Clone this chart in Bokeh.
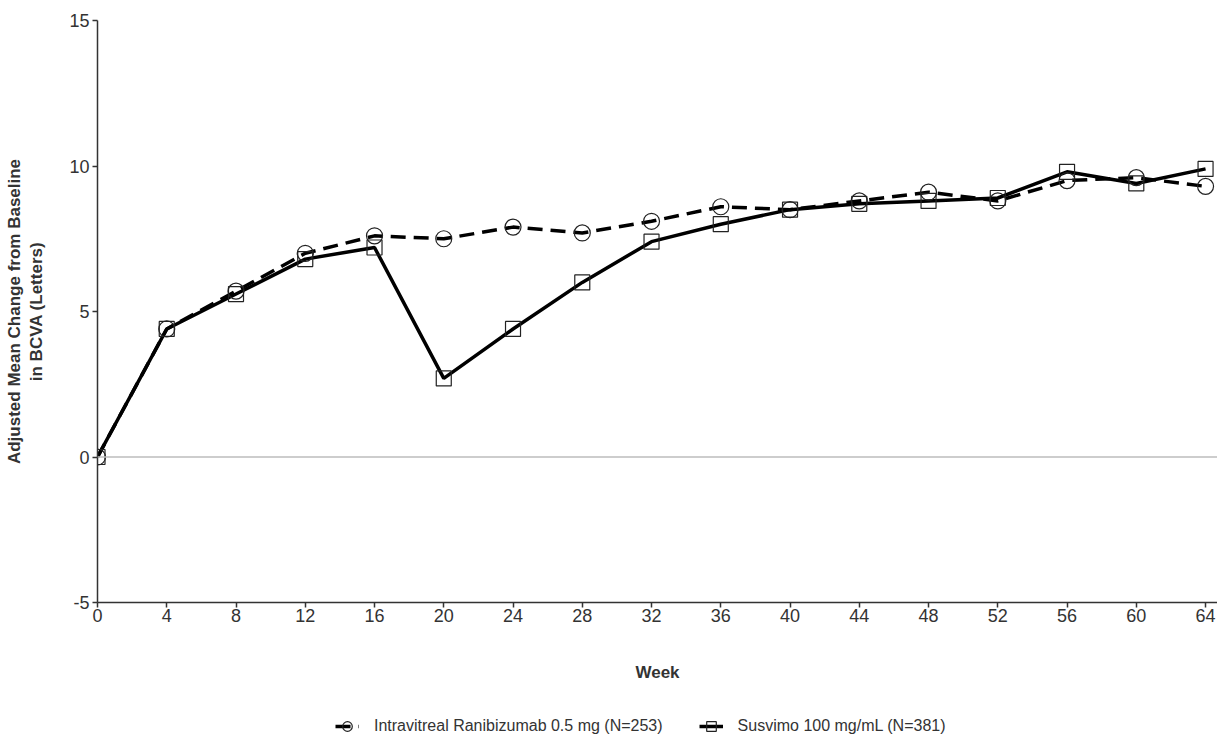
from bokeh.plotting import figure
from bokeh.layouts import column
from bokeh.models import (Range1d, FixedTicker, Span, Legend, LegendItem, ColumnDataSource,
                          PrintfTickFormatter)
from bokeh.embed import file_html
from bokeh.resources import INLINE

weeks = [0, 4, 8, 12, 16, 20, 24, 28, 32, 36, 40, 44, 48, 52, 56, 60, 64]
ranibizumab = [0.0, 4.4, 5.7, 7.0, 7.6, 7.5, 7.9, 7.7, 8.1, 8.6, 8.5, 8.8, 9.1, 8.8, 9.5, 9.6, 9.3]
susvimo = [0.0, 4.4, 5.6, 6.8, 7.2, 2.7, 4.4, 6.0, 7.4, 8.0, 8.5, 8.7, 8.8, 8.9, 9.8, 9.4, 9.9]
y_ticks = [-5, 0, 5, 10, 15]
label_rani = "Intravitreal Ranibizumab 0.5 mg (N=253)"
label_susv = "Susvimo 100 mg/mL (N=381)"

FONT = "Liberation Sans"

p = figure(frame_width=1120, frame_height=582, output_backend="svg",
           toolbar_location=None, x_range=Range1d(0, 64.69), y_range=Range1d(-5, 15),
           min_border_left=97, min_border_top=20, min_border_right=0, min_border_bottom=88)
p.outline_line_color = None
p.grid.visible = False
p.background_fill_color = "white"

src_r = ColumnDataSource(dict(x=weeks, y=ranibizumab))
src_s = ColumnDataSource(dict(x=weeks, y=susvimo))

p.add_layout(Span(location=0, dimension="width", line_color="#bdbdbd", line_width=1.5))

line_r = dict(line_color="black", line_width=3.5, line_dash="15 8")
line_s = dict(line_color="black", line_width=3.5)
mark_r = dict(marker="circle", size=16, fill_color=None, line_color="#222222", line_width=1.2)
mark_s = dict(marker="square", size=15, fill_color=None, line_color="#222222", line_width=1.2)

p.line("x", "y", source=src_r, **line_r)
p.line("x", "y", source=src_s, **line_s)
p.scatter("x", "y", source=src_r, **mark_r)
p.scatter("x", "y", source=src_s, **mark_s)

for ax in (p.xaxis[0], p.yaxis[0]):
    ax.axis_line_color = "#333333"
    ax.axis_line_width = 1.5
    ax.major_tick_line_color = "#333333"
    ax.major_tick_line_width = 1.5
    ax.major_tick_out = 5
    ax.major_tick_in = 0
    ax.minor_tick_line_color = None
    ax.major_label_text_font = FONT
    ax.major_label_text_font_size = "18px"
    ax.major_label_text_color = "#333333"
    ax.axis_label_text_font = FONT
    ax.axis_label_text_font_style = "bold"
    ax.axis_label_text_font_size = "17px"
    ax.axis_label_text_color = "#333333"

p.xaxis.ticker = FixedTicker(ticks=weeks)
p.yaxis.ticker = FixedTicker(ticks=y_ticks)
p.yaxis.formatter = PrintfTickFormatter(format="%d")
p.xaxis.major_label_standoff = 1
p.yaxis.major_label_standoff = 3
p.xaxis.axis_label = "Week"
p.xaxis.axis_label_standoff = 38
p.yaxis.axis_label = "Adjusted Mean Change from Baseline\nin BCVA (Letters)"
p.yaxis.axis_label_standoff = 20

# legend strip (its own renderers share the data but lie outside its view)
leg = figure(width=1217, height=48, output_backend="svg", toolbar_location=None,
             x_range=Range1d(1000, 1001), y_range=Range1d(1000, 1001),
             min_border=0, x_axis_type=None, y_axis_type=None)
leg.outline_line_color = None
leg.grid.visible = False
lr = leg.line("x", "y", source=src_r, **line_r)
ls = leg.line("x", "y", source=src_s, **line_s)
mr = leg.scatter("x", "y", source=src_r, **mark_r)
ms = leg.scatter("x", "y", source=src_s, **mark_s)

legend = Legend(items=[LegendItem(label=label_rani, renderers=[lr, mr]),
                       LegendItem(label=label_susv, renderers=[ls, ms])],
                orientation="horizontal", location=(238, 0),
                label_text_font=FONT, label_text_font_size="16px", label_text_color="#333333",
                glyph_width=24, glyph_height=24, spacing=36, padding=1, margin=0,
                label_standoff=15,
                border_line_color=None, background_fill_alpha=0)
leg.add_layout(legend)

layout = column(p, leg, spacing=0)
open("out.html", "w").write(file_html(layout, INLINE))
